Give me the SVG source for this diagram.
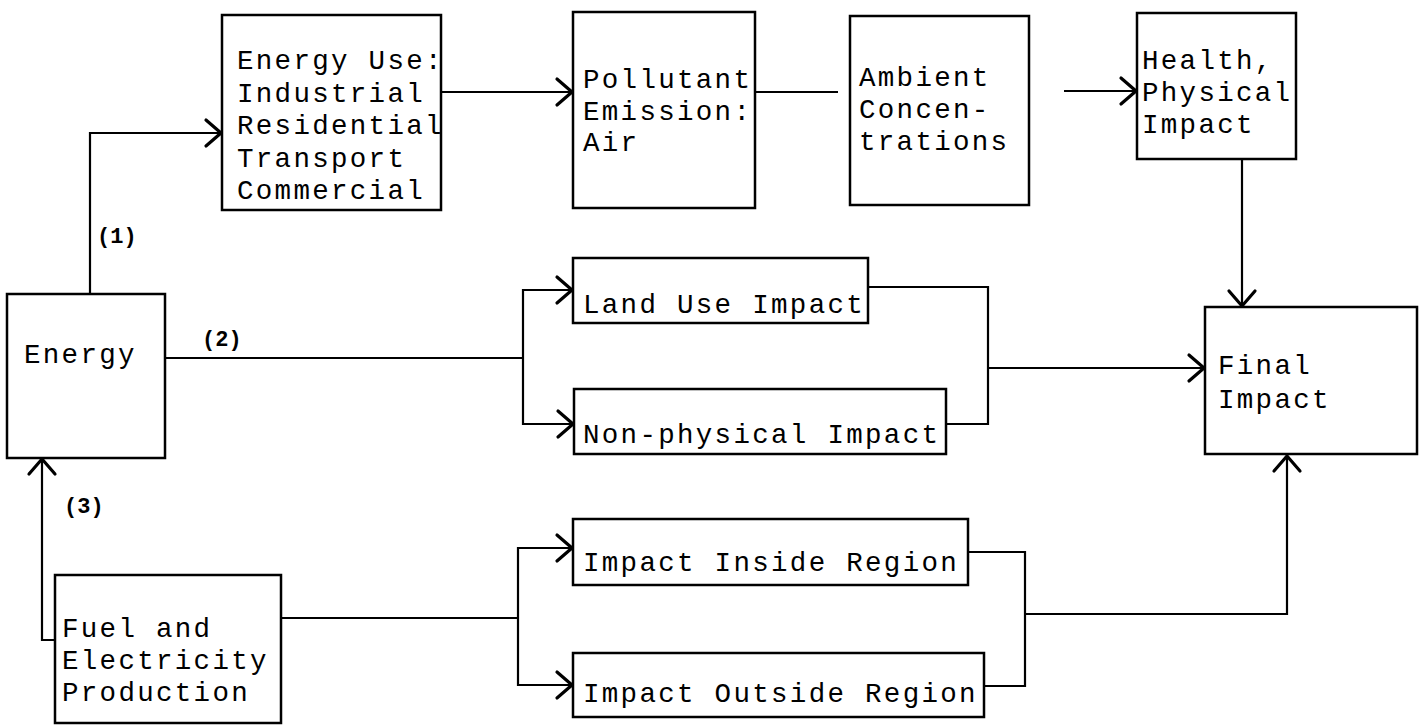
<svg xmlns="http://www.w3.org/2000/svg" width="1422" height="725" viewBox="0 0 1422 725">
<style>
.box{fill:none;stroke:#000;stroke-width:2.5}
.t{font-family:"Liberation Mono","DejaVu Sans Mono",monospace;font-size:27.5px;letter-spacing:2.3px;fill:#000}
.lbl{font-family:"Liberation Mono","DejaVu Sans Mono",monospace;font-size:22px;font-weight:bold;fill:#000}
.c{fill:none;stroke:#000;stroke-width:2.2}
.ca{fill:none;stroke:#000;stroke-width:2.2;marker-end:url(#ah)}
</style>
<defs>
<marker id="ah" markerUnits="userSpaceOnUse" markerWidth="40" markerHeight="40" refX="20" refY="20" orient="auto" viewBox="0 0 40 40">
<path d="M5,7 L20,20 L5,33" fill="none" stroke="#000" stroke-width="3.2" stroke-linecap="round" stroke-linejoin="round"/>
</marker>
</defs>
<rect width="1422" height="725" fill="#fff"/>
<g id="connectors">
<path class="ca" d="M90,294 V133 H221"/>
<path class="ca" d="M441,92 H572"/>
<path class="c" d="M755,92 H838"/>
<path class="ca" d="M1064,91 H1136"/>
<path class="ca" d="M1242,159 V306"/>
<path class="c" d="M165,358 H523"/>
<path class="ca" d="M523,358 V290 H572"/>
<path class="ca" d="M523,358 V424 H573"/>
<path class="c" d="M868,287 H988 V424 H946"/>
<path class="ca" d="M988,368 H1204"/>
<path class="c" d="M281,618 H518"/>
<path class="ca" d="M518,618 V548 H572"/>
<path class="ca" d="M518,618 V685 H572"/>
<path class="c" d="M968,552 H1025 V686 H984"/>
<path class="ca" d="M1025,614 H1287 V456"/>
<path class="ca" d="M55,640 H42 V459"/>
</g>
<g id="energy-use">
<rect class="box" x="222" y="15" width="219" height="195"/>
<text class="t" x="237" y="69">Energy Use:</text>
<text class="t" x="237" y="101.5">Industrial</text>
<text class="t" x="237" y="134">Residential</text>
<text class="t" x="237" y="166.5">Transport</text>
<text class="t" x="237" y="199">Commercial</text>
</g>
<g id="pollutant">
<rect class="box" x="573" y="12" width="182" height="196"/>
<text class="t" x="583" y="88">Pollutant</text>
<text class="t" x="583" y="119.5">Emission:</text>
<text class="t" x="583" y="151">Air</text>
</g>
<g id="ambient">
<rect class="box" x="850" y="16" width="179" height="189"/>
<text class="t" x="859" y="86">Ambient</text>
<text class="t" x="859" y="118">Concen-</text>
<text class="t" x="859" y="150">trations</text>
</g>
<g id="health">
<rect class="box" x="1137" y="13" width="159" height="146"/>
<text class="t" x="1142" y="69">Health,</text>
<text class="t" x="1142" y="101">Physical</text>
<text class="t" x="1142" y="133">Impact</text>
</g>
<g id="energy">
<rect class="box" x="7" y="294" width="158" height="164"/>
<text class="t" x="24" y="363">Energy</text>
</g>
<g id="land-use">
<rect class="box" x="573" y="258" width="295" height="65"/>
<text class="t" x="583" y="313">Land Use Impact</text>
</g>
<g id="non-physical">
<rect class="box" x="574" y="389" width="372" height="65"/>
<text class="t" x="583" y="443">Non-physical Impact</text>
</g>
<g id="inside">
<rect class="box" x="573" y="519" width="395" height="66"/>
<text class="t" x="583" y="571">Impact Inside Region</text>
</g>
<g id="outside">
<rect class="box" x="573" y="653" width="411" height="64"/>
<text class="t" x="583" y="702">Impact Outside Region</text>
</g>
<g id="final">
<rect class="box" x="1205" y="307" width="212" height="147"/>
<text class="t" x="1218" y="374">Final</text>
<text class="t" x="1218" y="408">Impact</text>
</g>
<g id="fuel">
<rect class="box" x="55" y="575" width="226" height="148"/>
<text class="t" x="62" y="637">Fuel and</text>
<text class="t" x="62" y="669">Electricity</text>
<text class="t" x="62" y="701">Production</text>
</g>
<g id="labels">
<text class="lbl" x="97" y="243">(1)</text>
<text class="lbl" x="202" y="346">(2)</text>
<text class="lbl" x="64" y="513">(3)</text>
</g>
</svg>
